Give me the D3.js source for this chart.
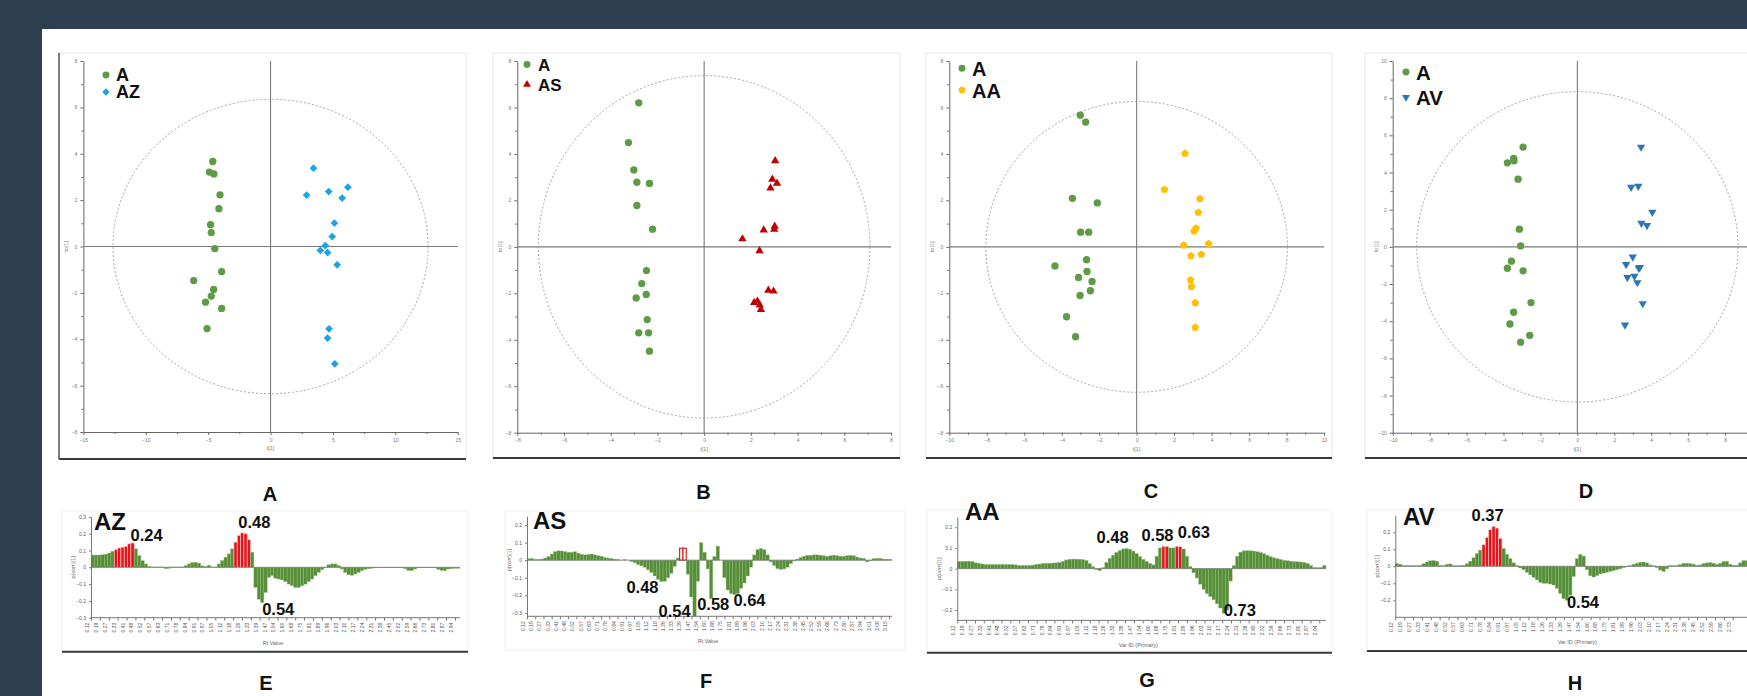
<!DOCTYPE html>
<html>
<head>
<meta charset="utf-8">
<script src="https://cdn.jsdelivr.net/npm/d3@7"></script>
<style>
body { margin:0; background:#2c3e50; }
svg { display:block; font-family:"Liberation Sans", Arial, sans-serif; }
</style>
</head>
<body>
<svg id="drawing_region"></svg>
<script>
// ---- score plots: [t1, to1] per sample ----
const groupNames = [ ["A","AZ"], ["A","AS"], ["A","AA"], ["A","AV"] ];

const scoreA_ctrl = [[-4.63,3.67],[-4.90,3.21],[-4.54,3.13],[-4.05,2.23],[-4.14,1.63],[-4.81,0.94],[-4.75,0.60],[-4.47,-0.09],[-3.92,-1.08],[-6.16,-1.47],[-4.56,-1.85],[-4.75,-2.14],[-5.21,-2.40],[-3.92,-2.67],[-5.09,-3.54]];
const scoreA_trt  = [[3.44,3.38],[6.20,2.56],[2.89,2.22],[4.66,2.37],[5.74,2.09],[5.12,1.01],[4.94,0.43],[4.39,0.04],[3.99,-0.17],[4.57,-0.26],[5.34,-0.79],[4.69,-3.55],[4.57,-3.95],[5.15,-5.06]];

const scoreB_ctrl = [[-2.80,6.20],[-3.24,4.49],[-3.01,3.31],[-2.88,2.78],[-2.34,2.73],[-2.88,1.78],[-2.21,0.76],[-2.47,-1.02],[-2.67,-1.58],[-2.48,-2.05],[-2.91,-2.20],[-2.44,-3.13],[-2.80,-3.70],[-2.38,-3.70],[-2.34,-4.49]];
const scoreB_trt  = [[3.04,3.70],[2.92,2.91],[3.12,2.73],[2.84,2.53],[2.55,0.72],[3.00,0.75],[3.02,0.88],[1.64,0.34],[2.37,-0.17],[2.75,-1.87],[2.97,-1.91],[2.14,-2.40],[2.28,-2.34],[2.38,-2.51],[2.43,-2.70]];

const scoreC_ctrl = [[-3.01,5.67],[-2.72,5.37],[-3.43,2.09],[-2.10,1.89],[-2.99,0.63],[-2.56,0.63],[-2.67,-0.55],[-4.36,-0.82],[-2.65,-1.06],[-3.10,-1.32],[-2.38,-1.49],[-2.47,-1.89],[-3.02,-2.09],[-3.74,-3.01],[-3.26,-3.87]];
const scoreC_trt  = [[2.58,4.02],[1.48,2.47],[3.38,2.07],[3.29,1.48],[3.17,0.80],[3.06,0.67],[3.84,0.13],[2.51,0.07],[2.90,-0.39],[3.45,-0.33],[2.88,-1.43],[2.92,-1.72],[3.13,-2.41],[3.13,-3.47]];

const scoreD_ctrl = [[-2.94,5.37],[-3.45,4.76],[-3.43,4.63],[-3.79,4.52],[-3.21,3.64],[-3.14,0.95],[-3.07,0.05],[-3.57,-0.77],[-3.79,-1.15],[-2.94,-1.29],[-2.51,-3.00],[-3.45,-3.52],[-3.65,-4.15],[-2.58,-4.76],[-3.07,-5.13]];
const scoreD_trt  = [[3.45,5.37],[2.91,3.21],[3.30,3.27],[4.06,1.87],[3.47,1.27],[3.77,1.15],[3.00,-0.54],[2.64,-0.95],[3.39,-1.10],[3.33,-1.15],[2.71,-1.65],[3.09,-1.58],[3.25,-1.92],[3.54,-3.05],[2.58,-4.20]];

// Hotelling T2 ellipse half-axes [t1, to1]
const ellipseRadii = [ [12.63,6.35], [7.10,7.37], [8.05,6.26], [8.70,8.35] ];

// ---- loading column plots ----
const loadAZ = [0.073,0.073,0.073,0.075,0.078,0.085,0.095,0.105,0.115,0.12,0.125,0.14,0.145,0.11,0.07,0.04,0.02,0.005,
  0.002,0.002,0.002,0.002,-0.008,-0.006,0.002,0.002,0.002,0.002,
  0.01,0.02,0.028,0.03,0.025,0.008,0.005,0.012,0.002,0.002,
  0.02,0.04,0.06,0.08,0.11,0.15,0.19,0.205,0.2,0.165,0.09,
  -0.12,-0.19,-0.21,-0.15,-0.06,-0.05,-0.065,-0.07,-0.075,-0.085,-0.1,-0.11,-0.12,-0.12,-0.11,-0.1,-0.085,-0.07,-0.05,-0.03,-0.015,
  0.002,0.015,0.02,0.02,0.01,-0.01,-0.03,-0.045,-0.048,-0.04,-0.03,-0.02,-0.012,-0.008,-0.006,
  -0.003,-0.003,-0.003,-0.003,-0.003,-0.003,-0.003,-0.003,-0.003,
  -0.008,-0.018,-0.02,-0.01,
  -0.003,-0.003,-0.003,-0.003,-0.003,-0.003,
  -0.012,-0.018,-0.02,-0.01,-0.008,-0.006,-0.006];
const loadAS = [0.008,0.01,0.004,0.004,0.006,0.012,0.02,0.035,0.048,0.053,
  0.052,0.048,0.045,0.045,0.048,0.04,0.033,0.03,0.032,0.035,
  0.03,0.025,0.022,0.015,0.012,0.009,0.006,0.004,0,0.004,
  0,-0.008,-0.015,-0.025,-0.032,-0.04,-0.055,-0.07,-0.09,-0.11,
  -0.122,-0.12,-0.1,-0.075,-0.035,0.012,0.068,0.068,-0.08,-0.21,
  -0.32,-0.12,0.099,0.045,-0.05,-0.22,0.02,0.08,0,-0.1,
  -0.17,-0.19,-0.196,-0.19,-0.16,-0.13,-0.09,-0.04,0.03,0.06,
  0.067,0.06,0.03,-0.01,-0.03,-0.048,-0.053,-0.05,-0.04,-0.02,
  -0.005,0.006,0.015,0.022,0.027,0.027,0.03,0.03,0.028,0.025,
  0.022,0.025,0.028,0.025,0.022,0.022,0.025,0.027,0.025,0.018,
  0.012,0.01,-0.01,-0.004,0.008,0.01,0.01,0.006,0.005,0.004];
const loadAA = [0.035,0.035,0.036,0.036,0.034,0.028,0.026,0.022,0.02,0.02,
  0.02,0.02,0.02,0.02,0.02,0.02,0.02,0.018,0.015,0.015,
  0.016,0.015,0.017,0.02,0.022,0.025,0.026,0.026,0.027,0.028,
  0.03,0.035,0.042,0.045,0.046,0.046,0.045,0.044,0.04,0.025,
  0.01,-0.004,-0.01,0.005,0.03,0.05,0.065,0.078,0.088,0.095,
  0.097,0.094,0.085,0.072,0.058,0.045,0.035,0.025,0.018,0.06,
  0.1,0.108,0.108,0.1,0.1,0.108,0.106,0.095,0.06,0.01,
  -0.02,-0.045,-0.075,-0.1,-0.12,-0.135,-0.15,-0.17,-0.19,-0.215,
  -0.2,-0.06,0.015,0.06,0.08,0.086,0.087,0.086,0.085,0.082,
  0.078,0.072,0.065,0.058,0.052,0.048,0.044,0.04,0.038,0.036,
  0.034,0.033,0.032,0.03,0.025,0.015,0.006,0.005,0.006,0.015];
const loadAV = [0.016,0.012,0.004,0.004,0.004,0.004,0.004,0.006,0.015,0.025,
  0.032,0.034,0.03,0.004,0.004,0.012,0.014,0.004,0.004,0.004,
  0.006,0.015,0.03,0.05,0.075,0.095,0.127,0.17,0.215,0.235,
  0.225,0.165,0.105,0.07,0.045,0.02,0.004,-0.01,-0.02,-0.035,
  -0.05,-0.065,-0.08,-0.095,-0.1,-0.1,-0.104,-0.11,-0.13,-0.16,
  -0.19,-0.2,-0.17,-0.06,0.045,0.07,0.06,-0.02,-0.055,-0.063,
  -0.055,-0.045,-0.04,-0.035,-0.03,-0.025,-0.02,-0.015,-0.008,-0.004,
  0.004,0.012,0.018,0.024,0.025,0.02,0.008,0.003,-0.008,-0.022,
  -0.03,-0.015,0.004,0.004,0.004,0.01,0.018,0.018,0.016,0.012,
  0.006,0.008,0.016,0.02,0.022,0.018,0.012,0.018,0.028,0.03,
  0.012,0.006,0.006,0.02,0.033,0.033];

// selected (red) variables
const selAZ = [7,8,9,10,11,12,43,44,45,46,47];
const selAS = [46,47];
const selAA = [61,62,65,66];
const selAV = [26,27,28,29,30,31];

// numbers written on the loading plots
const annAZ = [ {bar:12, text:"0.24"}, {bar:45, text:"0.48"}, {bar:51, text:"0.54"} ];
const annAS = [ {bar:40, text:"0.48"}, {bar:50, text:"0.54"}, {bar:55, text:"0.58"}, {bar:62, text:"0.64"} ];
const annAA = [ {bar:50, text:"0.48"}, {bar:61, text:"0.58"}, {bar:65, text:"0.63"}, {bar:79, text:"0.73"} ];
const annAV = [ {bar:29, text:"0.37"}, {bar:51, text:"0.54"} ];

const rtLabels = ["0.12","0.19","0.27","0.33","0.41","0.48","0.52","0.57","0.63","0.71","0.78","0.84","0.91","0.97","1.05",
  "1.12","1.18","1.26","1.33","1.39","1.47","1.54","1.60","1.68","1.75","1.81","1.89","1.96","2.03","2.10",
  "2.17","2.24","2.31","2.38","2.45","2.52","2.59","2.66","2.73","2.80","2.87","2.94","3.01","3.08","3.15"];

const panelLetters = ["A","B","C","D","E","F","G","H"];

// ---------------------------------------------------------------
const W = 1747, H = 696;
const svg = d3.select('#drawing_region').attr('width', W).attr('height', H);

svg.append('rect').attr('x', 42).attr('y', 29).attr('width', W - 42).attr('height', H - 29).attr('fill', 'white');

const GREEN = '#5f9a46';

const pentagon = {
    draw( ctx, size ) {
        const r = Math.sqrt( size / 2.4 );
        for ( let k = 0; k < 5; k++ ) {
            const a = -Math.PI / 2 + k * 2 * Math.PI / 5;
            if ( k == 0 ) ctx.moveTo( r * Math.cos(a), r * Math.sin(a) );
            else ctx.lineTo( r * Math.cos(a), r * Math.sin(a) );
        }
        ctx.closePath();
    }
};
const shapes = {
    circle:   { type: d3.symbolCircle, size: 42, rot: 0 },
    diamond:  { type: d3.symbolSquare, size: 30, rot: 45 },
    triangle: { type: d3.symbolTriangle, size: 30, rot: 0 },
    down:     { type: d3.symbolTriangle, size: 30, rot: 180 },
    pentagon: { type: pentagon, size: 40, rot: 0 }
};

class ScoreChart {

    constructor( config, ctrl, treat, radii, names ) {
        this.config = config;
        this.ctrl = ctrl;
        this.treat = treat;
        this.radii = radii;
        this.names = names;
        this.init();
    }

    init() {
        let self = this;
        const c = self.config;
        self.chart = svg.append('g');
        self.xscale = d3.scaleLinear().domain( c.xdomain ).range( [c.plot.left, c.plot.right] );
        self.yscale = d3.scaleLinear().domain( c.ydomain ).range( [c.plot.bottom, c.plot.top] );
    }

    render() {
        let self = this;
        const c = self.config;
        const f = c.frame;

        // frame
        self.chart.append('rect')
            .attr('x', f.left).attr('y', f.top)
            .attr('width', f.right - f.left).attr('height', f.bottom - f.top)
            .attr('fill', 'none').attr('stroke', '#e6e6e6').attr('stroke-width', 1);
        self.chart.append('line')
            .attr('x1', f.left).attr('x2', f.right).attr('y1', f.bottom).attr('y2', f.bottom)
            .attr('stroke', '#3a3a3a').attr('stroke-width', 2);
        if ( c.darkLeft ) {
            self.chart.append('line')
                .attr('x1', f.left).attr('x2', f.left).attr('y1', f.top).attr('y2', f.bottom)
                .attr('stroke', '#555').attr('stroke-width', 1.5);
        }

        // axes (ticks past the page edge are left out)
        const inView = v => self.xscale(v) < W - 6;
        const xt = d3.range( c.xdomain[0], c.xdomain[1] + 0.01, c.xstep ).filter( inView );
        const yt = d3.range( c.ydomain[0], c.ydomain[1] + 0.01, c.ystep );
        const xm = d3.range( c.xdomain[0] + c.xstep / 2, c.xdomain[1], c.xstep ).filter( inView );
        const ym = d3.range( c.ydomain[0] + c.ystep / 2, c.ydomain[1], c.ystep );

        const xg = self.chart.append('g').attr('transform', `translate(0, ${c.plot.bottom})`);
        xg.call( d3.axisBottom( self.xscale ).tickValues( xt ).tickSize(3).tickSizeOuter(0) );
        xg.append('g').call( d3.axisBottom( self.xscale ).tickValues( xm ).tickSize(2).tickFormat('') )
            .select('.domain').remove();

        const yg = self.chart.append('g').attr('transform', `translate(${c.plot.left}, 0)`);
        yg.call( d3.axisLeft( self.yscale ).tickValues( yt ).tickSize(3).tickSizeOuter(0) );
        yg.append('g').call( d3.axisLeft( self.yscale ).tickValues( ym ).tickSize(2).tickFormat('') )
            .select('.domain').remove();

        self.chart.selectAll('.domain, .tick line').attr('stroke', '#666');
        self.chart.selectAll('.tick text').attr('font-size', 5).attr('fill', '#777').attr('font-family', 'Liberation Sans, Arial');

        // axis titles
        self.chart.append('text')
            .attr('x', self.xscale(0)).attr('y', c.plot.bottom + 18)
            .attr('text-anchor', 'middle').attr('font-size', 5.5).attr('fill', '#777')
            .text('t[1]');
        self.chart.append('text')
            .attr('transform', `translate(${c.plot.left - 15}, ${self.yscale(0)}) rotate(-90)`)
            .attr('text-anchor', 'middle').attr('font-size', 5.5).attr('fill', '#777')
            .text('to[1]');

        // zero lines
        self.chart.append('line')
            .attr('x1', self.xscale(0)).attr('x2', self.xscale(0))
            .attr('y1', c.plot.top).attr('y2', c.plot.bottom)
            .attr('stroke', '#7a7a7a').attr('stroke-width', 1.1);
        self.chart.append('line')
            .attr('x1', c.plot.left).attr('x2', c.plot.right)
            .attr('y1', self.yscale(0)).attr('y2', self.yscale(0))
            .attr('stroke', '#7a7a7a').attr('stroke-width', 1.1);

        // T2 ellipse
        self.chart.append('ellipse')
            .attr('cx', self.xscale(0)).attr('cy', self.yscale(0))
            .attr('rx', self.xscale( self.radii[0] ) - self.xscale(0))
            .attr('ry', self.yscale(0) - self.yscale( self.radii[1] ))
            .attr('fill', 'none').attr('stroke', '#9a9a9a').attr('stroke-width', 0.9)
            .attr('stroke-dasharray', '2,2');

        // points
        const draw = ( data, shape, color ) => {
            const s = shapes[shape];
            const sym = d3.symbol().type( s.type ).size( s.size );
            self.chart.append('g').selectAll('path')
                .data( data )
                .join('path')
                .attr('d', sym)
                .attr('transform', d => `translate(${self.xscale(d[0])}, ${self.yscale(d[1])}) rotate(${s.rot})`)
                .attr('fill', color);
        };
        draw( self.ctrl, 'circle', GREEN );
        draw( self.treat, c.shape, c.color );

        // legend
        const L = c.legend;
        [ ['circle', GREEN], [c.shape, c.color] ].forEach( (m, k) => {
            const s = shapes[ m[0] ];
            const cy = L.y + k * L.gap;
            self.chart.append('path')
                .attr('d', d3.symbol().type( s.type ).size( s.size * 0.9 ))
                .attr('transform', `translate(${L.x}, ${cy}) rotate(${s.rot})`)
                .attr('fill', m[1]);
            self.chart.append('text')
                .attr('x', L.x + L.dx).attr('y', cy + L.base)
                .attr('font-size', L.font).attr('font-weight', 'bold').attr('fill', '#111')
                .text( self.names[k] );
        });
    }
}

class LoadingChart {

    constructor( config, values, selected, notes ) {
        this.config = config;
        this.values = values;
        this.selected = new Set( selected );
        this.notes = notes;
        this.init();
    }

    init() {
        let self = this;
        const c = self.config;
        self.chart = svg.append('g');
        self.xscale = d3.scaleBand()
            .domain( d3.range( self.values.length ) )
            .range( [c.left, c.left + self.values.length * c.barWidth] )
            .padding(0);
        self.yscale = d3.scaleLinear().domain( c.ydomain ).range( [c.bottom, c.top] );
    }

    render() {
        let self = this;
        const c = self.config;

        if ( c.frame ) {
            self.chart.append('rect')
                .attr('x', c.frame[0]).attr('y', c.frame[1])
                .attr('width', c.frame[2] - c.frame[0]).attr('height', c.frame[3] - c.frame[1])
                .attr('fill', 'none').attr('stroke', '#efefef');
        }
        if ( c.rule ) {
            self.chart.append('line')
                .attr('x1', c.rule[0]).attr('x2', c.rule[1]).attr('y1', c.rule[2]).attr('y2', c.rule[2])
                .attr('stroke', '#3a3a3a').attr('stroke-width', 2);
        }

        // bars
        self.chart.append('g').selectAll('rect')
            .data( self.values )
            .join('rect')
            .attr('x', (d, i) => self.xscale(i))
            .attr('width', self.xscale.bandwidth())
            .attr('y', d => self.yscale( Math.max(0, d) ))
            .attr('height', d => Math.abs( self.yscale(d) - self.yscale(0) ))
            .attr('fill', (d, i) => self.selected.has(i) ? ( c.outline ? 'white' : '#e3141c' ) : '#578e3a')
            .attr('stroke', (d, i) => self.selected.has(i) ? ( c.outline ? '#d42020' : '#ffc4c4' ) : '#8fbd70')
            .attr('stroke-width', (d, i) => self.selected.has(i) ? ( c.outline ? 1.2 : 0.7 ) : 0.4);

        // zero line
        self.chart.append('line')
            .attr('x1', self.xscale.range()[0]).attr('x2', self.xscale.range()[1])
            .attr('y1', self.yscale(0)).attr('y2', self.yscale(0))
            .attr('stroke', '#777').attr('stroke-width', 0.8);

        // y axis
        const yg = self.chart.append('g').attr('transform', `translate(${c.left}, 0)`);
        yg.call( d3.axisLeft( self.yscale ).tickValues( c.yticks ).tickSize(2).tickSizeOuter(0).tickFormat( d3.format('') ) );

        // x axis with rotated labels (labels past the page edge are left out)
        const labels = rtLabels.slice( 0, c.nTicks );
        const xp = d3.scalePoint().domain( labels ).range( [c.left, c.left + c.tickSpan] );
        const shown = labels.filter( d => xp(d) < W - 6 );
        const xg = self.chart.append('g').attr('transform', `translate(0, ${c.bottom})`);
        xg.call( d3.axisBottom( xp ).tickValues( shown ).tickSize(3).tickSizeOuter(0) );
        xg.select('.domain').attr('d', `M${c.left},0H${Math.min( self.xscale.range()[1], W )}`);
        xg.selectAll('.tick text')
            .attr('transform', 'rotate(-90)')
            .attr('text-anchor', 'end')
            .attr('dx', '-0.6em').attr('dy', '-0.5em').attr('y', 0).attr('x', -2);

        self.chart.selectAll('.domain, .tick line').attr('stroke', '#777');
        self.chart.selectAll('.tick text').attr('font-size', 5).attr('fill', '#555').attr('font-family', 'Liberation Sans, Arial');

        // axis titles
        self.chart.append('text')
            .attr('x', c.left + c.tickSpan / 2).attr('y', c.bottom + 27)
            .attr('text-anchor', 'middle').attr('font-size', 5.5).attr('fill', '#666')
            .text( c.xtitle );
        self.chart.append('text')
            .attr('transform', `translate(${c.left - 16}, ${self.yscale(0)}) rotate(-90)`)
            .attr('text-anchor', 'middle').attr('font-size', 5.5).attr('fill', '#666')
            .text('p(corr)[1]');

        // comparison title
        self.chart.append('text')
            .attr('x', c.title[0]).attr('y', c.title[1])
            .attr('font-size', 24).attr('font-weight', 'bold').attr('fill', '#111')
            .text( c.name );

        // value notes, anchored to their bars
        self.chart.append('g').selectAll('text')
            .data( self.notes )
            .join('text')
            .attr('x', (d, k) => self.xscale(d.bar) + self.xscale.bandwidth() / 2 + c.noteOffsets[k][0])
            .attr('y', (d, k) => self.yscale( self.values[d.bar] ) + c.noteOffsets[k][1])
            .attr('font-size', 16.5).attr('font-weight', 'bold').attr('fill', '#111')
            .text( d => d.text );
    }
}

// ---- layout ----
const scoreConfigs = [
    { frame:{left:59, top:53, right:466, bottom:459}, plot:{left:83.4, right:457.7, top:61, bottom:432},
      xdomain:[-15,15], ydomain:[-8,8], xstep:5, ystep:2, darkLeft:true,
      shape:'diamond', color:'#1aa3e8', legend:{x:106, y:75, gap:17, dx:10, base:6, font:18} },
    { frame:{left:493, top:53, right:900, bottom:458}, plot:{left:517.3, right:891, top:61, bottom:432.7},
      xdomain:[-8,8], ydomain:[-8,8], xstep:2, ystep:2,
      shape:'triangle', color:'#c00000', legend:{x:527, y:64.5, gap:20, dx:11, base:6.2, font:17} },
    { frame:{left:926, top:53, right:1332, bottom:458}, plot:{left:949.3, right:1324, top:61, bottom:432.7},
      xdomain:[-10,10], ydomain:[-8,8], xstep:2, ystep:2,
      shape:'pentagon', color:'#ffc000', legend:{x:962, y:68.3, gap:21.7, dx:10, base:7.5, font:20} },
    { frame:{left:1365, top:53, right:1775, bottom:458}, plot:{left:1392.7, right:1762, top:61, bottom:432.7},
      xdomain:[-10,10], ydomain:[-10,10], xstep:2, ystep:2,
      shape:'down', color:'#2e75b6', legend:{x:1406, y:72, gap:25.3, dx:10, base:7.8, font:20.5} }
];
const scoreData = [
    [scoreA_ctrl, scoreA_trt], [scoreB_ctrl, scoreB_trt], [scoreC_ctrl, scoreC_trt], [scoreD_ctrl, scoreD_trt]
];
scoreConfigs.forEach( (cfg, k) => {
    const chart = new ScoreChart( cfg, scoreData[k][0], scoreData[k][1], ellipseRadii[k], groupNames[k] );
    chart.render();
});

const loadingConfigs = [
    { name:'AZ', left:91, barWidth:3.324, top:516.9, bottom:617.7, ydomain:[-0.3,0.3],
      yticks:[-0.3,-0.2,-0.1,0,0.1,0.2,0.3], nTicks:42, tickSpan:364, xtitle:'Rt Value',
      title:[94,530], frame:[62,511,468,652], rule:[62,468,651.7],
      noteOffsets:[[-2,-2],[-4,-5],[0,12]] },
    { name:'AS', left:527, barWidth:3.318, top:516.3, bottom:616.3, ydomain:[-0.32,0.25],
      yticks:[-0.3,-0.2,-0.1,0,0.1,0.2], nTicks:45, tickSpan:362, xtitle:'Rt Value',
      title:[533,529], frame:[505,511,905,650], rule:null, outline:true,
      noteOffsets:[[-35,11],[-36,1],[-14,11],[-1,11]] },
    { name:'AA', left:957.3, barWidth:3.352, top:516.9, bottom:620.4, ydomain:[-0.25,0.25],
      yticks:[-0.2,-0.1,0,0.1,0.2], nTicks:42, tickSpan:362, xtitle:'Var ID (Primary)',
      title:[965,520], frame:[927,510,1332,653], rule:[927,1332,652.7],
      noteOffsets:[[-30,-6],[-22,-5],[1,-8],[0,3]] },
    { name:'AV', left:1395.3, barWidth:3.333, top:515.3, bottom:617.3, ydomain:[-0.3,0.3],
      yticks:[-0.2,-0.1,0,0.1,0.2], nTicks:42, tickSpan:364, xtitle:'Var ID (Primary)',
      title:[1403,524.7], frame:[1367,510,1790,652], rule:[1367,1747,651],
      noteOffsets:[[-22,-5],[0,8]] }
];
const loadData = [ [loadAZ, selAZ, annAZ], [loadAS, selAS, annAS], [loadAA, selAA, annAA], [loadAV, selAV, annAV] ];
loadingConfigs.forEach( (cfg, k) => {
    const chart = new LoadingChart( cfg, loadData[k][0], loadData[k][1], loadData[k][2] );
    chart.render();
});

// panel letters
const letterPos = [ [270,500.5], [703.5,499.3], [1151,498.3], [1586,498.3],
                    [266,689.5], [706,688.3], [1147,687], [1575,689.5] ];
svg.append('g').selectAll('text')
    .data( panelLetters )
    .join('text')
    .attr('x', (d, i) => letterPos[i][0]).attr('y', (d, i) => letterPos[i][1])
    .attr('text-anchor', 'middle')
    .attr('font-size', 20).attr('font-weight', 'bold').attr('fill', '#111')
    .text( d => d );
</script>
</body>
</html>
